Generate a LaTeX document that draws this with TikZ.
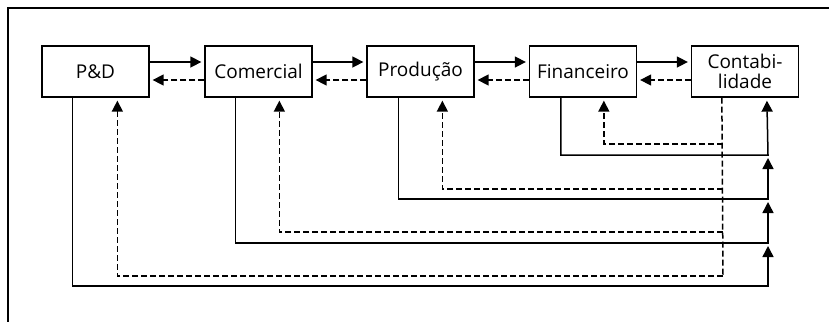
\documentclass[tikz,border=0pt]{standalone}
\usepackage{fontspec}
\setmainfont{Open Sans}
\usetikzlibrary{arrows.meta}
\begin{document}
\begin{tikzpicture}[x=1pt,y=-1pt,
  dept/.style={draw, line width=1.3pt, minimum width=107pt, minimum height=51pt,
    inner sep=0pt, align=center, font=\fontsize{19}{20.5}\selectfont},
  link/.style={line width=1.5pt},
  head/.style={-{Triangle[length=11pt,width=11pt]}},
  flow/.style={link, head, shorten >=3pt},
  back/.style={link, dash pattern=on 6pt off 3pt, head, shorten >=3pt},
  backline/.style={link, dash pattern=on 6pt off 3pt},
  frameline/.style={line width=1.2pt}
]
\useasboundingbox (0,0) rectangle (829,322);
% outer frame (top and left edges)
\draw[frameline] (829,8) -- (8,8) -- (8,322);

% departments
\node[dept] (pd)  at (95.5,71.5)  {P\&D};
\node[dept] (com) at (258.5,71.5) {Comercial};
\node[dept] (pro) at (420.5,71.5) {Produção};
\node[dept] (fin) at (583,71.5)   {Financeiro};
\node[dept] (con) at (745,71.5)   {Contabi-\\lidade};

% forward (solid) and backward (dashed) links between neighbours
\foreach \a/\b in {pd/com, com/pro, pro/fin, fin/con}{
  \draw[flow] ([yshift=9.5pt]\a.east) -- ([yshift=9.5pt]\b.west);
  \draw[back] ([yshift=-8.5pt]\b.west) -- ([yshift=-8.5pt]\a.east);
}

% return bus coordinates (solid into Contabilidade, dashed out of it)
\coordinate (s1) at (768,155);
\coordinate (s2) at (768,199);
\coordinate (s3) at (768,243);
\coordinate (s4) at (768,286);
\coordinate (t2) at (768,158);
\coordinate (t3) at (768,202);
\coordinate (t4) at (768,246);
\coordinate (d1) at (723,144);
\coordinate (d2) at (723,189);
\coordinate (d3) at (723,232);
\coordinate (d4) at (723,276);

% solid lines from each department to Contabilidade
\draw[flow] ([xshift=32pt]fin.south west) |- (s1) -- ([xshift=76pt]con.south west);
\draw[flow, shorten >=0pt] ([xshift=32pt]pro.south west) |- (s2) -- (t2);
\draw[flow, shorten >=0pt] ([xshift=31pt]com.south west) |- (s3) -- (t3);
\draw[flow, shorten >=0pt] ([xshift=31pt]pd.south west)  |- (s4) -- (t4);

% dashed lines from Contabilidade back to each department
\draw[backline] ([xshift=31pt]con.south west) -- (d4);
\draw[back] (d1) -| ([xshift=75pt]fin.south west);
\draw[back] (d2) -| ([xshift=76pt]pro.south west);
\draw[back] (d3) -| ([xshift=75pt]com.south west);
\draw[back] (d4) -| ([xshift=76pt]pd.south west);
\end{tikzpicture}
\end{document}
